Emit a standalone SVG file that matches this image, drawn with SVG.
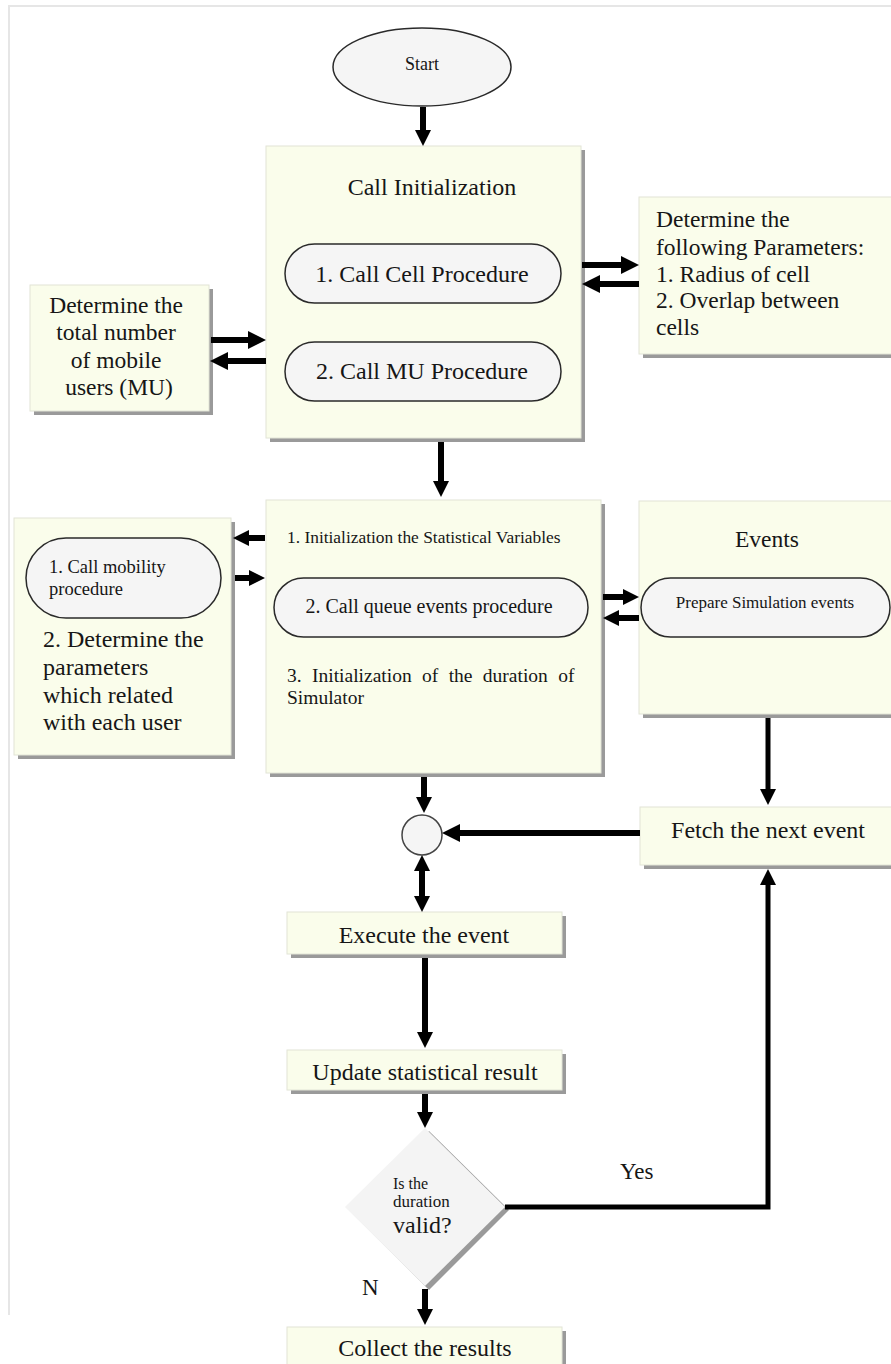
<svg xmlns="http://www.w3.org/2000/svg" width="891" height="1364" viewBox="0 0 891 1364">
  <style>
    text { font-family: "Liberation Serif", "Times New Roman", serif; fill: #161616; }
    .mid { text-anchor: middle; }
    .box { fill: #fafdeb; stroke: #e2e4d6; stroke-width: 1; }
    .shadow { fill: #9a9a9a; }
    .pill { fill: #f5f5f5; stroke: #2a2a2a; stroke-width: 1.5; }
    .wire { fill: none; stroke: #000; stroke-width: 6; }
    .thin { fill: none; stroke: #000; stroke-width: 5; }
    .frame { fill: none; stroke: #e6e6e6; stroke-width: 2; }
  </style>
  <defs>
    <marker id="hd" markerUnits="userSpaceOnUse" viewBox="0 0 16 16" markerWidth="16" markerHeight="16" refX="0" refY="8" orient="auto-start-reverse">
      <path d="M0,0 L16,8 L0,16 z" fill="#000"/>
    </marker>
    <marker id="hl" markerUnits="userSpaceOnUse" viewBox="0 0 18 18" markerWidth="18" markerHeight="18" refX="0" refY="9" orient="auto-start-reverse">
      <path d="M0,0 L18,9 L0,18 z" fill="#000"/>
    </marker>
  </defs>

  <rect width="891" height="1364" fill="#ffffff"/>
  <!-- page frame -->
  <path class="frame" d="M9,1315 V6 H891"/>

  <!-- Start -->
  <g id="start">
    <ellipse cx="422" cy="67" rx="89" ry="39" fill="#f5f5f5" stroke="#2a2a2a" stroke-width="1.5"/>
    <text class="mid" x="422" y="70" font-size="18">Start</text>
  </g>

  <!-- Call Initialization -->
  <g id="call-init">
    <rect class="shadow" x="270" y="150" width="315" height="292"/>
    <rect class="box" x="266" y="146" width="315" height="292"/>
    <text class="mid" x="432" y="195" font-size="24">Call Initialization</text>
    <rect class="pill" x="285" y="244" width="276" height="59" rx="29.5"/>
    <text class="mid" x="422" y="282" font-size="24">1. Call Cell Procedure</text>
    <rect class="pill" x="285" y="342" width="276" height="59" rx="29.5"/>
    <text class="mid" x="422" y="379" font-size="24">2. Call MU Procedure</text>
  </g>

  <!-- Number of mobile users -->
  <g id="mu-count">
    <rect class="shadow" x="34" y="289" width="179" height="126"/>
    <rect class="box" x="30" y="285" width="179" height="126"/>
    <text class="mid" font-size="23.5">
      <tspan x="119" y="313">Determine the</tspan>
      <tspan x="119" y="340">total number</tspan>
      <tspan x="119" y="368">of mobile</tspan>
      <tspan x="119" y="395">users (MU)</tspan>
    </text>
  </g>

  <!-- Cell parameters -->
  <g id="cell-params">
    <rect class="shadow" x="643" y="201" width="260" height="157"/>
    <rect class="box" x="639" y="197" width="260" height="157"/>
    <text font-size="23.5">
      <tspan x="656" y="227">Determine the</tspan>
      <tspan x="656" y="255">following Parameters:</tspan>
      <tspan x="656" y="282">1. Radius of cell</tspan>
      <tspan x="656" y="308">2. Overlap between</tspan>
      <tspan x="656" y="335">cells</tspan>
    </text>
  </g>

  <!-- Statistics / queue setup -->
  <g id="setup">
    <rect class="shadow" x="270" y="504" width="335" height="273"/>
    <rect class="box" x="266" y="500" width="335" height="273"/>
    <text x="287" y="543" font-size="17.4">1. Initialization the Statistical Variables</text>
    <rect class="pill" x="274" y="578" width="314" height="59" rx="29.5"/>
    <text class="mid" x="429" y="613" font-size="20">2. Call queue events procedure</text>
    <text x="287" y="682" font-size="19.5" word-spacing="5.5">3. Initialization of the duration of</text>
    <text x="287" y="704" font-size="19.5">Simulator</text>
  </g>

  <!-- Mobility -->
  <g id="mobility">
    <rect class="shadow" x="18" y="522" width="217" height="237"/>
    <rect class="box" x="14" y="518" width="217" height="237"/>
    <rect class="pill" x="26" y="538" width="195" height="80" rx="40"/>
    <text font-size="18.5">
      <tspan x="49" y="573">1. Call mobility</tspan>
      <tspan x="49" y="595">procedure</tspan>
    </text>
    <text font-size="24">
      <tspan x="43" y="647">2. Determine the</tspan>
      <tspan x="43" y="675">parameters</tspan>
      <tspan x="43" y="703">which related</tspan>
      <tspan x="43" y="730">with each user</tspan>
    </text>
  </g>

  <!-- Events -->
  <g id="events">
    <rect class="shadow" x="643" y="505" width="260" height="213"/>
    <rect class="box" x="639" y="501" width="260" height="213"/>
    <text class="mid" x="767" y="547" font-size="23.5">Events</text>
    <rect class="pill" x="641" y="578" width="249" height="59" rx="29.5"/>
    <text class="mid" x="765" y="608" font-size="17">Prepare Simulation events</text>
  </g>

  <!-- Junction -->
  <g id="junction">
    <circle cx="422" cy="835" r="20" fill="#f5f5f5" stroke="#444" stroke-width="1.5"/>
  </g>

  <!-- Fetch -->
  <g id="fetch">
    <rect class="shadow" x="644" y="811" width="260" height="58"/>
    <rect class="box" x="640" y="807" width="260" height="58"/>
    <text class="mid" x="768" y="838" font-size="24">Fetch the next event</text>
  </g>

  <!-- Execute -->
  <g id="execute">
    <rect class="shadow" x="291" y="916" width="275" height="42"/>
    <rect class="box" x="287" y="912" width="275" height="42"/>
    <text class="mid" x="424" y="943" font-size="24">Execute the event</text>
  </g>

  <!-- Update -->
  <g id="update">
    <rect class="shadow" x="291" y="1054" width="275" height="40"/>
    <rect class="box" x="287" y="1050" width="275" height="40"/>
    <text class="mid" x="425" y="1080" font-size="24">Update statistical result</text>
  </g>

  <!-- Decision -->
  <g id="decision">
    <polygon points="429,1131 509,1210 429,1290 349,1210" fill="#9a9a9a"/>
    <polygon points="425,1128 505,1207 425,1286 345,1207" fill="#f4f4f4"/>
    <text x="393" y="1189" font-size="16">Is the</text>
    <text x="393" y="1207" font-size="17">duration</text>
    <text x="393" y="1233" font-size="24">valid?</text>
  </g>

  <!-- Collect -->
  <g id="collect">
    <rect class="shadow" x="291" y="1331" width="275" height="60"/>
    <rect class="box" x="287" y="1327" width="275" height="60"/>
    <text class="mid" x="425" y="1356" font-size="24">Collect the results</text>
  </g>

  <!-- Connectors -->
  <g id="connectors">
    <line class="wire" x1="423" y1="107" x2="423" y2="130" marker-end="url(#hd)"/>
    <line class="wire" x1="441" y1="442" x2="441" y2="481" marker-end="url(#hd)"/>

    <line class="wire" x1="582" y1="265" x2="621" y2="265" marker-end="url(#hl)"/>
    <line class="wire" x1="639" y1="284" x2="600" y2="284" marker-end="url(#hl)"/>
    <line class="wire" x1="211" y1="340" x2="248" y2="340" marker-end="url(#hl)"/>
    <line class="wire" x1="266" y1="361" x2="228" y2="361" marker-end="url(#hl)"/>

    <line class="wire" x1="265" y1="538" x2="249" y2="538" marker-end="url(#hd)"/>
    <line class="wire" x1="235" y1="578" x2="249" y2="578" marker-end="url(#hd)"/>
    <line class="wire" x1="603" y1="597" x2="623" y2="597" marker-end="url(#hd)"/>
    <line class="wire" x1="639" y1="618" x2="619" y2="618" marker-end="url(#hd)"/>

    <line class="wire" x1="424" y1="777" x2="424" y2="797" marker-end="url(#hd)"/>
    <line class="thin" x1="768" y1="718" x2="768" y2="789" marker-end="url(#hd)"/>
    <line class="wire" x1="640" y1="833" x2="460" y2="833" marker-end="url(#hl)"/>
    <line class="wire" x1="422" y1="871" x2="422" y2="896" marker-start="url(#hd)" marker-end="url(#hd)"/>
    <line class="wire" x1="425" y1="958" x2="425" y2="1032" marker-end="url(#hd)"/>
    <line class="wire" x1="425" y1="1094" x2="425" y2="1112" marker-end="url(#hd)"/>
    <polyline class="thin" points="505,1207 768,1207 768,885" marker-end="url(#hd)"/>
    <line class="wire" x1="425" y1="1289" x2="425" y2="1309" marker-end="url(#hd)"/>

    <text x="620" y="1179" font-size="23">Yes</text>
    <text x="362" y="1295" font-size="23">N</text>
  </g>
</svg>
